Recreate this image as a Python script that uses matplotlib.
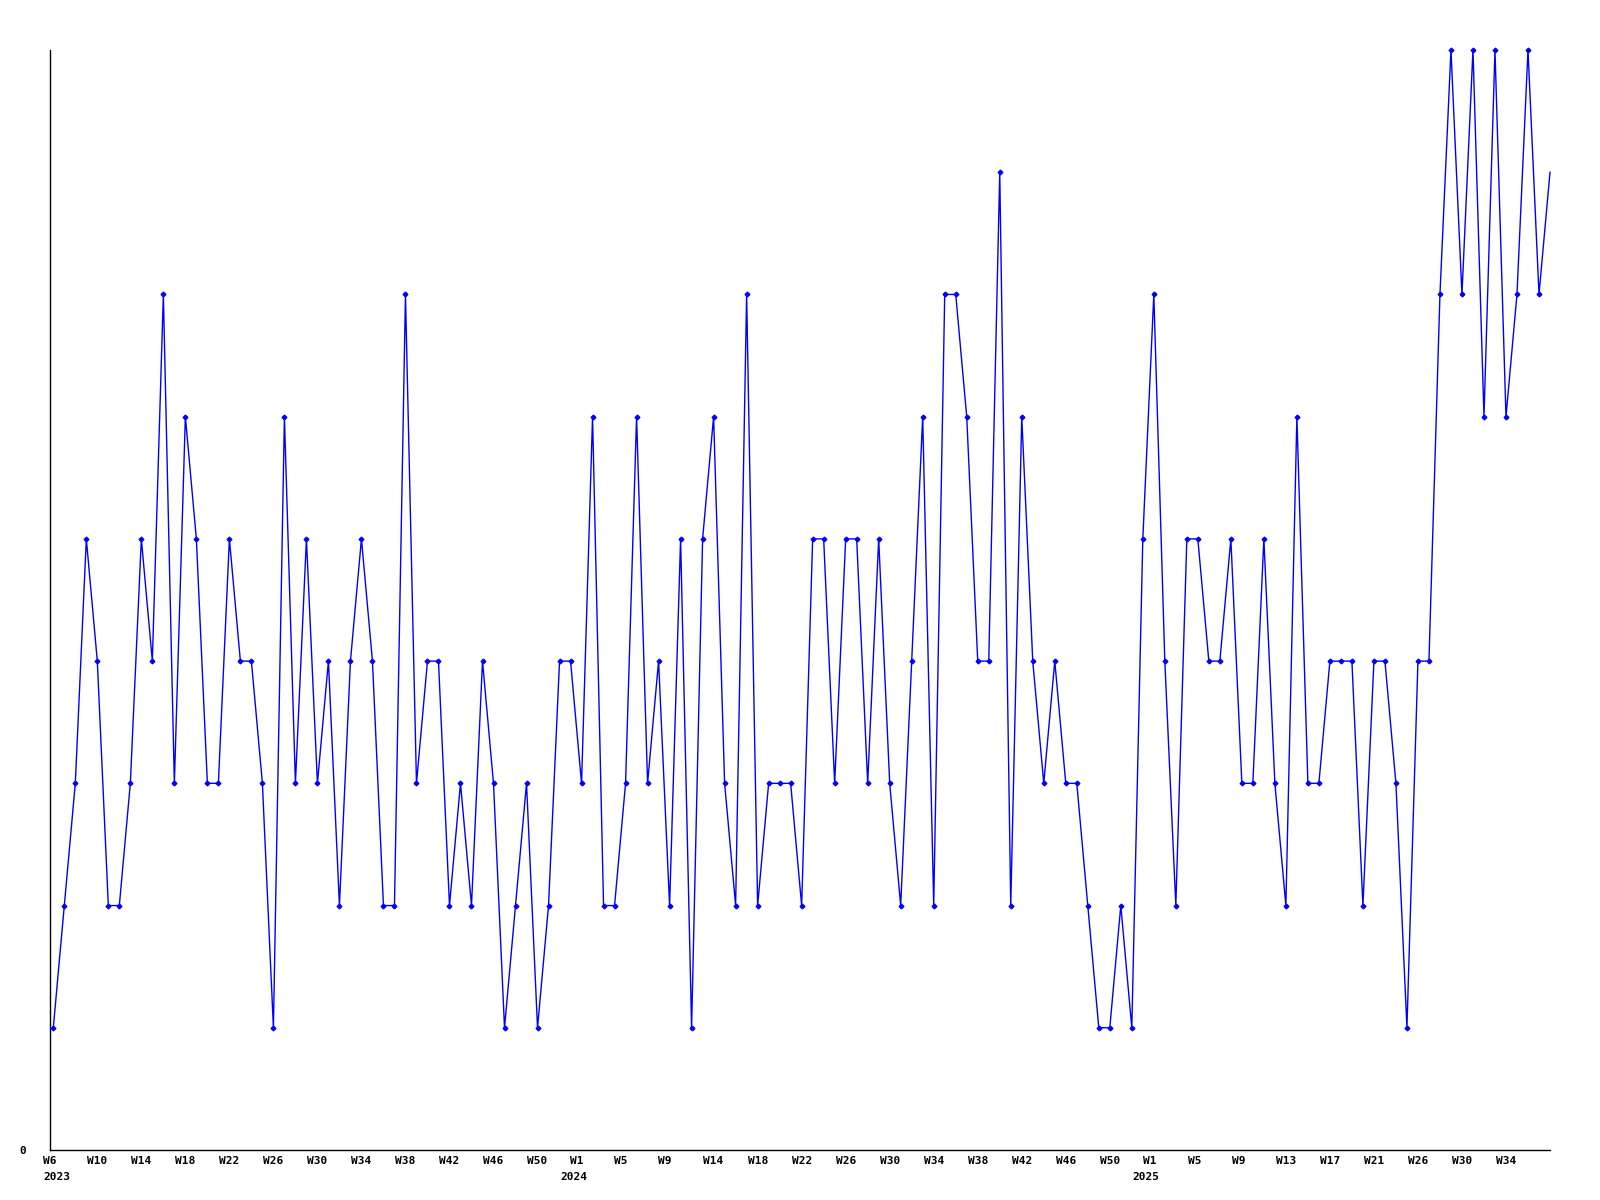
import numpy as np
from matplotlib import pyplot as plt

# weekly counts, 2023 W6 .. 2025 (last point is the running week)
counts = [1, 2, 3, 5, 4, 2, 2, 3, 5, 4, 7, 3, 6, 5, 3, 3, 5, 4, 4, 3,
          1, 6, 3, 5, 3, 4, 2, 4, 5, 4, 2, 2, 7, 3, 4, 4, 2, 3, 2, 4,
          3, 1, 2, 3, 1, 2, 4, 4, 3, 6, 2, 2, 3, 6, 3, 4, 2, 5, 1, 5,
          6, 3, 2, 7, 2, 3, 3, 3, 2, 5, 5, 3, 5, 5, 3, 5, 3, 2, 4, 6,
          2, 7, 7, 6, 4, 4, 8, 2, 6, 4, 3, 4, 3, 3, 2, 1, 1, 2, 1, 5,
          7, 4, 2, 5, 5, 4, 4, 5, 3, 3, 5, 3, 2, 6, 3, 3, 4, 4, 4, 2,
          4, 4, 3, 1, 4, 4, 7, 9, 7, 9, 6, 9, 6, 7, 9, 7, 8]

week_labels = ["W6", "W10", "W14", "W18", "W22", "W26", "W30", "W34", "W38",
               "W42", "W46", "W50",
               "W1", "W5", "W9", "W14", "W18", "W22", "W26", "W30", "W34",
               "W38", "W42", "W46", "W50",
               "W1", "W5", "W9", "W13", "W17", "W21", "W26", "W30", "W34"]
# where the labels sit, in point index units
week_pos = [-0.3, 4, 8, 12, 16, 20, 24, 28, 32, 36, 40, 44,
            47.6, 51.6, 55.6, 60, 64, 68, 72, 76, 80, 84, 88, 92, 96,
            99.6, 103.7, 107.7, 112, 116, 120, 124, 128, 132]

years = ["2023", "2024", "2025"]
year_pos = [0.3, 47.3, 99.3]

x = np.arange(len(counts))

fig = plt.figure(figsize=(16, 12), dpi=100)
ax = fig.add_axes([50/1600, 50/1200, 1500/1600, 1100/1200])

# no marker on the last (unfinished) week
ax.plot(x, counts, color='#0000ff', linewidth=1.0, marker='D', markersize=2.4,
        markevery=list(range(len(counts) - 1)), clip_on=False)

ax.set_xlim(0, len(counts) - 1)
ax.set_ylim(0, max(counts))

ax.spines['top'].set_visible(False)
ax.spines['right'].set_visible(False)
ax.spines['left'].set_linewidth(1.0)
ax.spines['bottom'].set_linewidth(1.0)

font = dict(family='DejaVu Sans Mono', weight='bold', size=8)

ax.set_yticks([0])
ax.set_yticklabels(['0'], **font)
ax.tick_params(axis='y', length=0, pad=17)

ax.set_xticks(week_pos)
ax.set_xticklabels(week_labels, **font)
ax.tick_params(axis='x', length=0, pad=4)

for yr, p in zip(years, year_pos):
    ax.annotate(yr, xy=(p, 0), xycoords=('data', 'axes fraction'),
                xytext=(0, -16), textcoords='offset points',
                ha='center', va='top', **font)

fig.savefig('out.png', dpi=100)
